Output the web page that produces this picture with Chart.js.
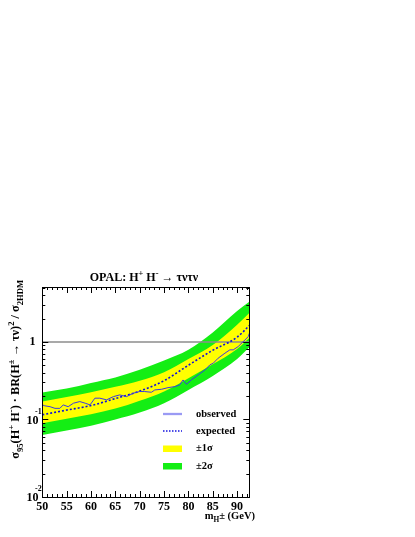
<!DOCTYPE html>
<html>
<head>
<meta charset="utf-8">
<script src="https://cdn.jsdelivr.net/npm/chart.js@4/dist/chart.umd.min.js"></script>
<style>
  html, body { margin: 0; padding: 0; background: #ffffff; }
  #wrap { width: 415px; height: 537px; }
</style>
</head>
<body>
<div id="wrap"><canvas id="limitChart" width="415" height="537"></canvas></div>
<script>
// masses (GeV) at which the expected limit and bands are read
const bandMass = [50, 55, 60, 65, 70, 75, 80, 85, 90, 92.5];
const expectedLimit = [0.115, 0.132, 0.151, 0.186, 0.232, 0.316, 0.50, 0.78, 1.15, 1.62];
const twoSigmaUp = [0.222, 0.25, 0.295, 0.347, 0.437, 0.575, 0.79, 1.32, 2.5, 3.3];
const oneSigmaUp = [0.17, 0.195, 0.224, 0.263, 0.316, 0.407, 0.60, 0.91, 1.66, 2.35];
const oneSigmaDown = [0.089, 0.102, 0.117, 0.138, 0.174, 0.229, 0.339, 0.513, 0.81, 1.12];
const twoSigmaDown = [0.063, 0.072, 0.083, 0.10, 0.123, 0.162, 0.24, 0.363, 0.60, 0.85];

// observed limit
const obsMass = [50, 50.5, 51.6, 52.6, 53.6, 54.3, 55.3, 56.4, 57.7, 58.8, 59.8, 60.8, 61.8, 63.2, 64.6,
  65.9, 67.3, 68.7, 70.0, 71.0, 72.4, 73.1, 74.5, 75.8, 77.2, 78.2, 78.9, 79.6, 80.6, 82.0, 83.4, 84.4,
  85.1, 86.1, 87.5, 88.5, 89.2, 90.2, 91.2, 92.3, 92.5];
const obsLimit = [0.154, 0.15, 0.146, 0.139, 0.139, 0.154, 0.146, 0.162, 0.170, 0.162, 0.154, 0.188, 0.188,
  0.179, 0.197, 0.207, 0.197, 0.218, 0.229, 0.229, 0.224, 0.240, 0.245, 0.257, 0.265, 0.279, 0.323, 0.284,
  0.323, 0.375, 0.435, 0.505, 0.531, 0.616, 0.715, 0.789, 0.789, 0.869, 1.0, 1.17, 1.29];

const xTicks = [50, 55, 60, 65, 70, 75, 80, 85, 90];
const yDecades = [1, 0.1, 0.01];
const yDecadeLabels = [['1', ''], ['10', '-1'], ['10', '-2']];
const legendLabels = ['observed', 'expected', '\u00b11\u03c3', '\u00b12\u03c3'];

const SERIF = '"Liberation Serif", "DejaVu Serif", serif';
const GREEN = '#14ee14';
const YELLOW = '#ffff00';

function pts(xs, ys) {
    return xs.map((x, i) => ({ x: x, y: ys[i] }));
}

// draw text made of normal / sub / sup pieces
function richText(ctx, parts, x, y, size, align) {
    let w = 0;
    parts.forEach(p => {
        const s = p.s === 'n' ? size : size * 0.7;
        ctx.font = 'bold ' + s + 'px ' + SERIF;
        w += ctx.measureText(p.t).width;
    });
    let cx = align === 'right' ? x - w : (align === 'center' ? x - w / 2 : x);
    ctx.textAlign = 'left';
    ctx.textBaseline = 'alphabetic';
    parts.forEach(p => {
        const s = p.s === 'n' ? size : size * 0.7;
        ctx.font = 'bold ' + s + 'px ' + SERIF;
        let dy = 0;
        if (p.s === 'sub') dy = size * 0.3;
        if (p.s === 'sup') dy = -size * 0.42;
        ctx.fillText(p.t, cx, y + dy);
        cx += ctx.measureText(p.t).width;
    });
    return w;
}

const framePlugin = {
    id: 'rootFrame',
    afterDraw(chart) {
        const ctx = chart.ctx;
        const a = chart.chartArea;
        const xs = chart.scales.x;
        const ys = chart.scales.y;
        ctx.save();
        ctx.strokeStyle = '#000';
        ctx.lineWidth = 1;
        ctx.strokeRect(Math.round(a.left) + 0.5, Math.round(a.top) + 0.5,
            Math.round(a.right - a.left), Math.round(a.bottom - a.top));

        // x ticks, bottom and top, pointing inside
        ctx.beginPath();
        for (let m = 50; m <= 92.5; m += 1) {
            const px = Math.round(xs.getPixelForValue(m)) + 0.5;
            const len = m % 5 === 0 ? 6 : 3;
            ctx.moveTo(px, a.bottom); ctx.lineTo(px, a.bottom - len);
            ctx.moveTo(px, a.top); ctx.lineTo(px, a.top + len);
        }
        // y ticks, left and right
        for (let d = 0.01; d < 6; d *= 10) {
            for (let k = 1; k <= 9; k++) {
                const v = d * k;
                if (v > ys.max) break;
                const py = Math.round(ys.getPixelForValue(v)) + 0.5;
                const len = k === 1 ? 6 : 3;
                ctx.moveTo(a.left, py); ctx.lineTo(a.left + len, py);
                ctx.moveTo(a.right, py); ctx.lineTo(a.right - len, py);
            }
        }
        ctx.stroke();

        // y decade labels
        ctx.fillStyle = '#000';
        yDecades.forEach((v, i) => {
            const py = ys.getPixelForValue(v);
            const lab = yDecadeLabels[i];
            ctx.font = 'bold 12px ' + SERIF;
            ctx.textAlign = 'right';
            ctx.textBaseline = 'middle';
            if (lab[1] === '') {
                ctx.fillText(lab[0], 35.5, py);
            } else {
                ctx.fillText(lab[0], 38.5, py + 1);
                ctx.font = 'bold 8px ' + SERIF;
                ctx.textAlign = 'left';
                ctx.fillText(lab[1], 35, py - 8);
            }
        });

        // title
        richText(ctx, [
            { t: 'OPAL: H', s: 'n' }, { t: '+', s: 'sup' }, { t: ' H', s: 'n' }, { t: '-', s: 'sup' },
            { t: ' \u2192 \u03c4\u03bd\u03c4\u03bd', s: 'n' }
        ], 144, 281, 12, 'center');

        // x title
        richText(ctx, [
            { t: 'm', s: 'n' }, { t: 'H', s: 'sub' }, { t: '\u00b1', s: 'n' }, { t: ' (GeV)', s: 'n' }
        ], 255, 519, 10.5, 'right');

        // y title, rotated
        ctx.save();
        ctx.translate(19, 280);
        ctx.rotate(-Math.PI / 2);
        richText(ctx, [
            { t: '\u03c3', s: 'n' }, { t: '95', s: 'sub' }, { t: '(H', s: 'n' }, { t: '+', s: 'sup' },
            { t: ' H', s: 'n' }, { t: '-', s: 'sup' }, { t: ') \u00b7 BR(H', s: 'n' }, { t: '\u00b1', s: 'sup' },
            { t: ' \u2192 \u03c4\u03bd)', s: 'n' }, { t: '2', s: 'sup' }, { t: ' / \u03c3', s: 'n' },
            { t: '2HDM', s: 'sub' }
        ], 0, 0, 12.3, 'right');
        ctx.restore();

        // legend
        const rows = [414, 431, 448.5, 466];
        const sx0 = 163, sx1 = 182;
        ctx.lineWidth = 2.3;
        ctx.strokeStyle = '#9a9af4';
        ctx.beginPath(); ctx.moveTo(sx0, rows[0]); ctx.lineTo(sx1, rows[0]); ctx.stroke();
        ctx.strokeStyle = '#1414e0';
        ctx.lineWidth = 1.5;
        ctx.setLineDash([1.5, 1.5]);
        ctx.beginPath(); ctx.moveTo(sx0, rows[1]); ctx.lineTo(sx1, rows[1]); ctx.stroke();
        ctx.setLineDash([]);
        ctx.fillStyle = YELLOW;
        ctx.fillRect(sx0, rows[2] - 3, sx1 - sx0, 6.5);
        ctx.fillStyle = GREEN;
        ctx.fillRect(sx0, rows[3] - 3, sx1 - sx0, 6.5);
        ctx.fillStyle = '#000';
        ctx.font = 'bold 10.5px ' + SERIF;
        ctx.textAlign = 'left';
        ctx.textBaseline = 'middle';
        legendLabels.forEach((t, i) => ctx.fillText(t, 196, rows[i]));
        ctx.restore();
    }
};

const ctx = document.getElementById('limitChart');
const bandStyle = { pointRadius: 0, borderWidth: 0, cubicInterpolationMode: 'monotone' };

new Chart(ctx, {
    type: 'line',
    data: {
        datasets: [
            Object.assign({ label: '+2s', data: pts(bandMass, twoSigmaUp), fill: '+1',
                backgroundColor: GREEN, borderColor: GREEN, order: 10 }, bandStyle),
            Object.assign({ label: '-2s', data: pts(bandMass, twoSigmaDown), fill: false,
                borderColor: GREEN, order: 9 }, bandStyle),
            Object.assign({ label: '+1s', data: pts(bandMass, oneSigmaUp), fill: '+1',
                backgroundColor: YELLOW, borderColor: YELLOW, order: 8 }, bandStyle),
            Object.assign({ label: '-1s', data: pts(bandMass, oneSigmaDown), fill: false,
                borderColor: YELLOW, order: 7 }, bandStyle),
            {
                label: 'one', data: [{ x: 50, y: 1 }, { x: 92.5, y: 1 }],
                borderColor: '#8c8c8c', borderWidth: 1.5, pointRadius: 0, fill: false, order: 6
            },
            {
                label: 'expected', data: pts(bandMass, expectedLimit),
                borderColor: '#1010d8', borderWidth: 1.6, borderDash: [2, 2],
                pointRadius: 0, fill: false, cubicInterpolationMode: 'monotone', order: 5
            },
            {
                label: 'observed', data: pts(obsMass, obsLimit),
                borderColor: '#3a3ae0', borderWidth: 1, pointRadius: 0, fill: false,
                tension: 0, order: 4
            }
        ]
    },
    options: {
        responsive: false,
        animation: false,
        devicePixelRatio: 1,
        layout: { padding: { left: 0, right: 165.7, top: 287, bottom: 0 } },
        plugins: {
            legend: { display: false },
            title: { display: false },
            tooltip: { enabled: false }
        },
        scales: {
            x: {
                type: 'linear',
                min: 50,
                max: 92.5,
                grid: { display: false, drawTicks: false, tickLength: 0 },
                border: { display: false },
                ticks: {
                    stepSize: 5,
                    includeBounds: false,
                    autoSkip: false,
                    maxRotation: 0,
                    padding: 3,
                    color: '#000',
                    font: { family: SERIF, weight: 'bold', size: 12 },
                    callback: v => (xTicks.includes(v) ? String(v) : '')
                },
                afterFit: s => { s.height = 40; }
            },
            y: {
                type: 'logarithmic',
                min: 0.01,
                max: 5.1,
                grid: { display: false },
                border: { display: false },
                ticks: { display: false },
                afterFit: s => { s.width = 42.3; }
            }
        }
    },
    plugins: [framePlugin]
});
</script>
</body>
</html>
